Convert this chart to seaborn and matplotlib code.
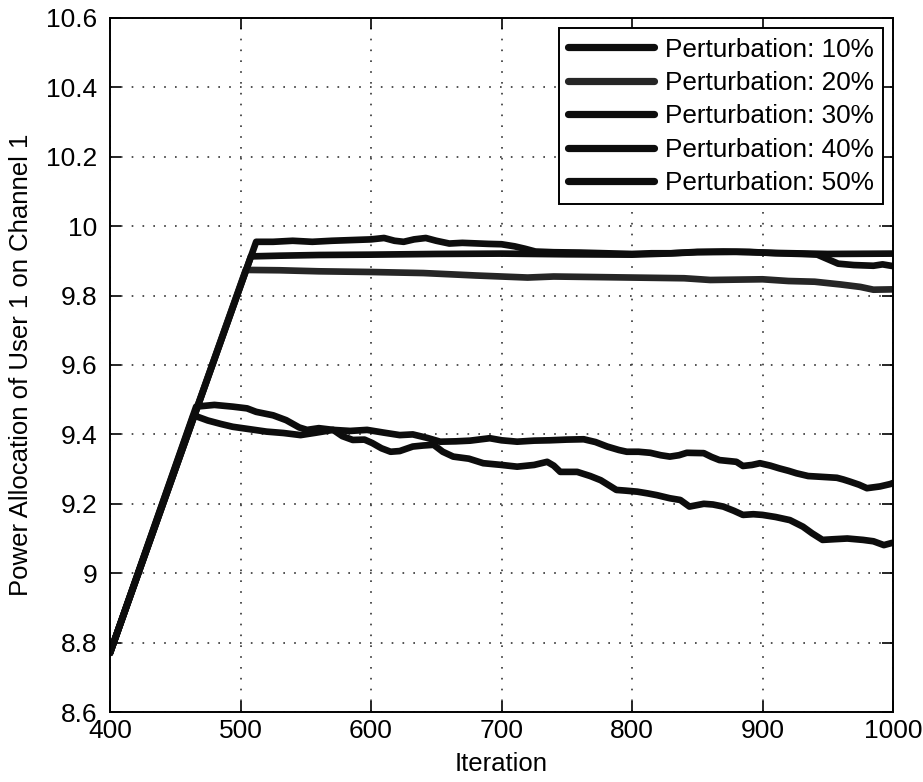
import numpy as np
import pandas as pd
import matplotlib
matplotlib.use("Agg")
import matplotlib.pyplot as plt
import seaborn as sns

labels = ["Perturbation: 10%", "Perturbation: 20%", "Perturbation: 30%",
          "Perturbation: 40%", "Perturbation: 50%"]

x10 = [400, 508, 530, 560, 600, 650, 700, 750, 800, 825, 850, 880, 910, 950, 1000]
y10 = [8.77, 9.913, 9.915, 9.917, 9.918, 9.920, 9.921, 9.919, 9.918, 9.921, 9.925, 9.926, 9.923, 9.920, 9.921]

x20 = [400, 504, 530, 560, 600, 640, 680, 720, 740, 760, 800, 840, 860, 880, 900, 920, 940, 960, 975, 985, 1000]
y20 = [8.77, 9.874, 9.873, 9.870, 9.868, 9.865, 9.858, 9.852, 9.855, 9.854, 9.852, 9.850, 9.845, 9.846, 9.847, 9.842, 9.840, 9.832, 9.825, 9.817, 9.818]

x30 = [400, 512, 525, 540, 555, 570, 585, 600, 610, 618, 625, 633, 642, 650, 660, 670, 690, 700, 710, 718, 726,
       740, 760, 780, 800, 815, 830, 850, 870, 890, 910, 930, 942, 950, 958, 970, 985, 992, 1000]
y30 = [8.77, 9.955, 9.955, 9.958, 9.955, 9.958, 9.960, 9.962, 9.966, 9.958, 9.955, 9.962, 9.966, 9.958, 9.950, 9.952,
       9.949, 9.948, 9.942, 9.935, 9.927, 9.925, 9.924, 9.922, 9.920, 9.922, 9.922, 9.926, 9.927, 9.926, 9.922, 9.920,
       9.918, 9.905, 9.892, 9.888, 9.886, 9.890, 9.885]

x40 = [400, 464, 475, 485, 494, 507, 520, 533, 546, 558, 571, 584, 597, 610, 622, 632, 643, 653, 665, 676, 691, 700,
       712, 725, 737, 750, 763, 772, 781, 790, 796, 805, 814, 822, 829, 836, 842, 855, 861, 867, 880, 885, 892, 898,
       906, 913, 920, 926, 935, 944, 957, 962, 967, 974, 980, 990, 998, 1000]
y40 = [8.77, 9.455, 9.440, 9.430, 9.422, 9.415, 9.408, 9.404, 9.398, 9.405, 9.413, 9.410, 9.413, 9.405, 9.398, 9.400,
       9.390, 9.379, 9.380, 9.382, 9.389, 9.383, 9.379, 9.382, 9.383, 9.385, 9.386, 9.378, 9.365, 9.355, 9.350, 9.350,
       9.347, 9.340, 9.336, 9.340, 9.347, 9.346, 9.335, 9.326, 9.321, 9.309, 9.312, 9.317, 9.310, 9.302, 9.295, 9.288,
       9.280, 9.278, 9.275, 9.270, 9.264, 9.255, 9.245, 9.250, 9.257, 9.260]

x50 = [400, 466, 480, 494, 505, 512, 525, 535, 545, 551, 560, 571, 578, 586, 595, 601, 608, 615, 622, 632, 640, 648,
       655, 663, 675, 686, 700, 712, 725, 735, 740, 745, 758, 768, 776, 788, 795, 804, 812, 819, 829, 837, 844, 855,
       862, 870, 878, 885, 893, 900, 910, 921, 931, 938, 946, 955, 965, 977, 985, 993, 1000]
y50 = [8.77, 9.480, 9.485, 9.480, 9.475, 9.465, 9.455, 9.441, 9.420, 9.413, 9.418, 9.413, 9.395, 9.384, 9.385, 9.375,
       9.360, 9.350, 9.352, 9.365, 9.368, 9.370, 9.350, 9.336, 9.330, 9.317, 9.312, 9.307, 9.312, 9.321, 9.310, 9.292,
       9.292, 9.280, 9.268, 9.240, 9.238, 9.235, 9.230, 9.225, 9.216, 9.211, 9.192, 9.200, 9.198, 9.192, 9.180, 9.168,
       9.170, 9.168, 9.162, 9.153, 9.134, 9.115, 9.096, 9.098, 9.100, 9.096, 9.092, 9.081, 9.088]

xs = [x10, x20, x30, x40, x50]
ys = [y10, y20, y30, y40, y50]

frames = []
for lab, xv, yv in zip(labels, xs, ys):
    frames.append(pd.DataFrame({"Iteration": xv, "Power": yv, "series": lab}))
df = pd.concat(frames, ignore_index=True)

sns.set_style("ticks")
plt.rcParams['font.family'] = ['Liberation Sans', 'DejaVu Sans']
plt.rcParams['text.color'] = 'black'
plt.rcParams['axes.labelcolor'] = 'black'

fig = plt.figure(figsize=(9.23, 7.82), dpi=100)
ax = fig.add_axes([0.1192, 0.0895, 0.8483, 0.8875])

palette = {labels[0]: "#0d0d0d", labels[1]: "#262626", labels[2]: "#0d0d0d",
           labels[3]: "#0d0d0d", labels[4]: "#0d0d0d"}
sns.lineplot(data=df, x="Iteration", y="Power", hue="series", palette=palette,
             estimator=None, sort=False, linewidth=4.8, ax=ax, legend=True)

ax.set_xlim(400, 1000)
ax.set_ylim(8.6, 10.6)
ax.set_xticks(np.arange(400, 1001, 100))
yt = np.round(np.arange(8.6, 10.61, 0.2), 1)
ax.set_yticks(yt)
ax.set_yticklabels([("%g" % v) for v in yt])

ax.grid(True, color="#333333", linestyle=(0, (1, 5.5)), linewidth=1.2)
for s in ax.spines.values():
    s.set_visible(True)
    s.set_color("black")
    s.set_linewidth(1.4)
ax.tick_params(direction="in", length=8, width=1.2, top=True, right=True,
               labelsize=19, colors="black")
ax.tick_params(axis="x", pad=5)
ax.tick_params(axis="y", pad=9)

ax.set_xlabel("Iteration", fontsize=18.5)
ax.set_ylabel("Power Allocation of User 1 on Channel 1", fontsize=18.5)
ax.xaxis.set_label_coords(0.5, -0.057)
ax.yaxis.set_label_coords(-0.098, 0.5)

leg = ax.legend(loc="upper right", fontsize=18.8, frameon=True, fancybox=False,
                edgecolor="black", handlelength=3.3, handletextpad=0.4,
                borderaxespad=0.4, labelspacing=0.36, borderpad=0.35)
leg.get_frame().set_linewidth(1.4)
leg.get_frame().set_alpha(1)
for h in leg.get_lines():
    h.set_linewidth(5.2)

fig.savefig("out.png", dpi=100)
